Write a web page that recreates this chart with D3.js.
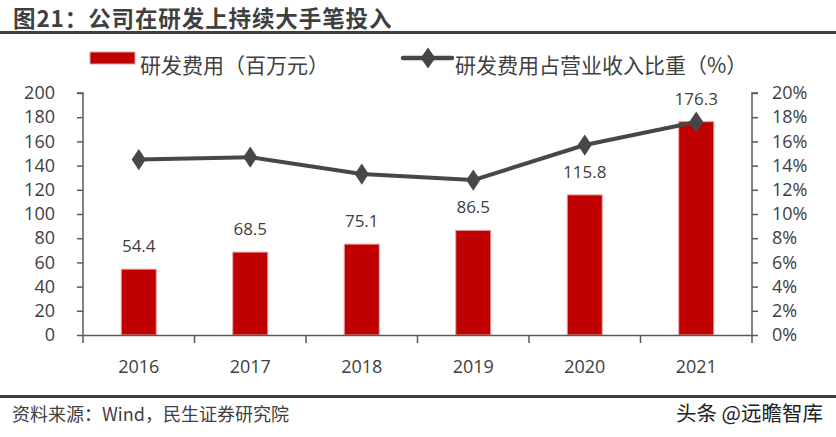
<!DOCTYPE html>
<html><head><meta charset="utf-8">
<script src="https://cdn.jsdelivr.net/npm/d3@7/dist/d3.min.js"></script>
<style>body{margin:0;background:#fff;} svg{display:block;font-family:"Noto Sans CJK SC","Noto Sans",sans-serif;}</style>
</head><body>
<script>
const years = ["2016","2017","2018","2019","2020","2021"];
const rdExpense = [54.4, 68.5, 75.1, 86.5, 115.8, 176.3];
const rdRatio = [14.5, 14.7, 13.3, 12.8, 15.7, 17.6];
const leftTicks = [0,20,40,60,80,100,120,140,160,180,200];
const rightTicks = [0,2,4,6,8,10,12,14,16,18,20];

(function(){
const W = 836, H = 437;
const svg = d3.select("body").append("svg").attr("width", W).attr("height", H);
const textColor = "#404040";

// title
svg.append("text").attr("x", 13).attr("y", 27).attr("font-size", 22.5).attr("font-weight", "bold")
  .attr("letter-spacing", 0.9)
  .attr("fill", "#3f3f3f").text("图21：公司在研发上持续大手笔投入");
svg.append("rect").attr("x", 0).attr("y", 31).attr("width", W).attr("height", 3).attr("fill", "#404040");
svg.append("rect").attr("x", 0).attr("y", 395).attr("width", W).attr("height", 3).attr("fill", "#404040");
svg.append("text").attr("x", 12).attr("y", 421).attr("font-size", 18).attr("fill", textColor)
  .text("资料来源：Wind，民生证券研究院");
svg.append("text").attr("x", 823).attr("y", 421).attr("font-size", 20.5).attr("fill", "#222")
  .attr("text-anchor", "end").text("头条 @远瞻智库");

const pL = 83, pR = 752, pT = 93, pB = 335;
const x = d3.scaleBand().domain(years).range([pL, pR]);
const yL = d3.scaleLinear().domain([0, 200]).range([pB, pT]);
const yR = d3.scaleLinear().domain([0, 20]).range([pB, pT]);

// bars
const bw = 35;
svg.selectAll("rect.bar").data(years).enter().append("rect")
  .attr("x", d => x(d) + x.bandwidth()/2 - bw/2)
  .attr("y", (d,i) => yL(rdExpense[i]))
  .attr("width", bw)
  .attr("height", (d,i) => pB - yL(rdExpense[i]))
  .attr("fill", "#c00000").attr("stroke", "#e8a0a0").attr("stroke-width", 1);

svg.selectAll("text.lbl").data(years).enter().append("text")
  .attr("x", d => x(d) + x.bandwidth()/2)
  .attr("y", (d,i) => yL(rdExpense[i]) - 17)
  .attr("text-anchor", "middle").attr("font-size", 17).attr("fill", textColor)
  .attr("font-family", "'Open Sans','Noto Sans',sans-serif")
  .text((d,i) => rdExpense[i].toFixed(1));

// axes
const axColor = "#595959";
const gL = svg.append("g").attr("transform", `translate(${pL},0)`)
  .call(d3.axisLeft(yL).tickValues(leftTicks).tickSize(6).tickPadding(22));
const gR = svg.append("g").attr("transform", `translate(${pR},0)`)
  .call(d3.axisRight(yR).tickValues(rightTicks).tickSize(6).tickPadding(14).tickFormat(d => d + "%"));
const gX = svg.append("g").attr("transform", `translate(0,${pB})`)
  .call(d3.axisBottom(x).tickSize(0).tickPadding(27));
[gL, gR, gX].forEach(g => {
  g.selectAll("path.domain").attr("stroke", axColor).attr("stroke-width", 1.5);
  g.selectAll("line").attr("stroke", axColor).attr("stroke-width", 1.5);
  g.selectAll("text").attr("font-size", 18).attr("fill", textColor)
    .attr("font-family", "'Open Sans','Noto Sans',sans-serif");
});
gL.select("path.domain").attr("d", `M-6,${pT}H0V${pB}`);
gR.select("path.domain").attr("d", `M6,${pT}H0V${pB}`);
// category boundary ticks
const bounds = years.map(d => x(d)).concat([pR]);
svg.selectAll("line.ctick").data(bounds).enter().append("line")
  .attr("x1", d => d).attr("x2", d => d).attr("y1", pB).attr("y2", pB + 8)
  .attr("stroke", axColor).attr("stroke-width", 1.5);
gX.selectAll("text").attr("dy", "0.6em");

// line
const lineColor = "#474747";
const line = d3.line().x((d,i) => x(years[i]) + x.bandwidth()/2).y(d => yR(d));
svg.append("path").datum(rdRatio).attr("d", line).attr("fill", "none")
  .attr("stroke", lineColor).attr("stroke-width", 4).attr("stroke-linejoin", "round");
const diamond = d3.symbol().type(d3.symbolDiamond).size(130);
svg.selectAll("path.pt").data(rdRatio).enter().append("path")
  .attr("d", diamond)
  .attr("transform", (d,i) => `translate(${x(years[i]) + x.bandwidth()/2},${yR(d)}) scale(1.15,1)`)
  .attr("fill", lineColor);

// legend
svg.append("rect").attr("x", 90).attr("y", 52).attr("width", 45).attr("height", 12)
  .attr("fill", "#c00000").attr("stroke", "#e8a0a0");
svg.append("text").attr("x", 140).attr("y", 73).attr("font-size", 21).attr("fill", textColor)
  .text("研发费用（百万元）");
svg.append("line").attr("x1", 403).attr("x2", 452).attr("y1", 58).attr("y2", 58)
  .attr("stroke", lineColor).attr("stroke-width", 4.5).attr("stroke-linecap", "round");
svg.append("path").attr("d", diamond).attr("transform", "translate(428,58) scale(1.2,1)").attr("fill", lineColor);
svg.append("text").attr("x", 455).attr("y", 73).attr("font-size", 21).attr("fill", textColor)
  .text("研发费用占营业收入比重（%）");
})();
</script>
</body></html>
